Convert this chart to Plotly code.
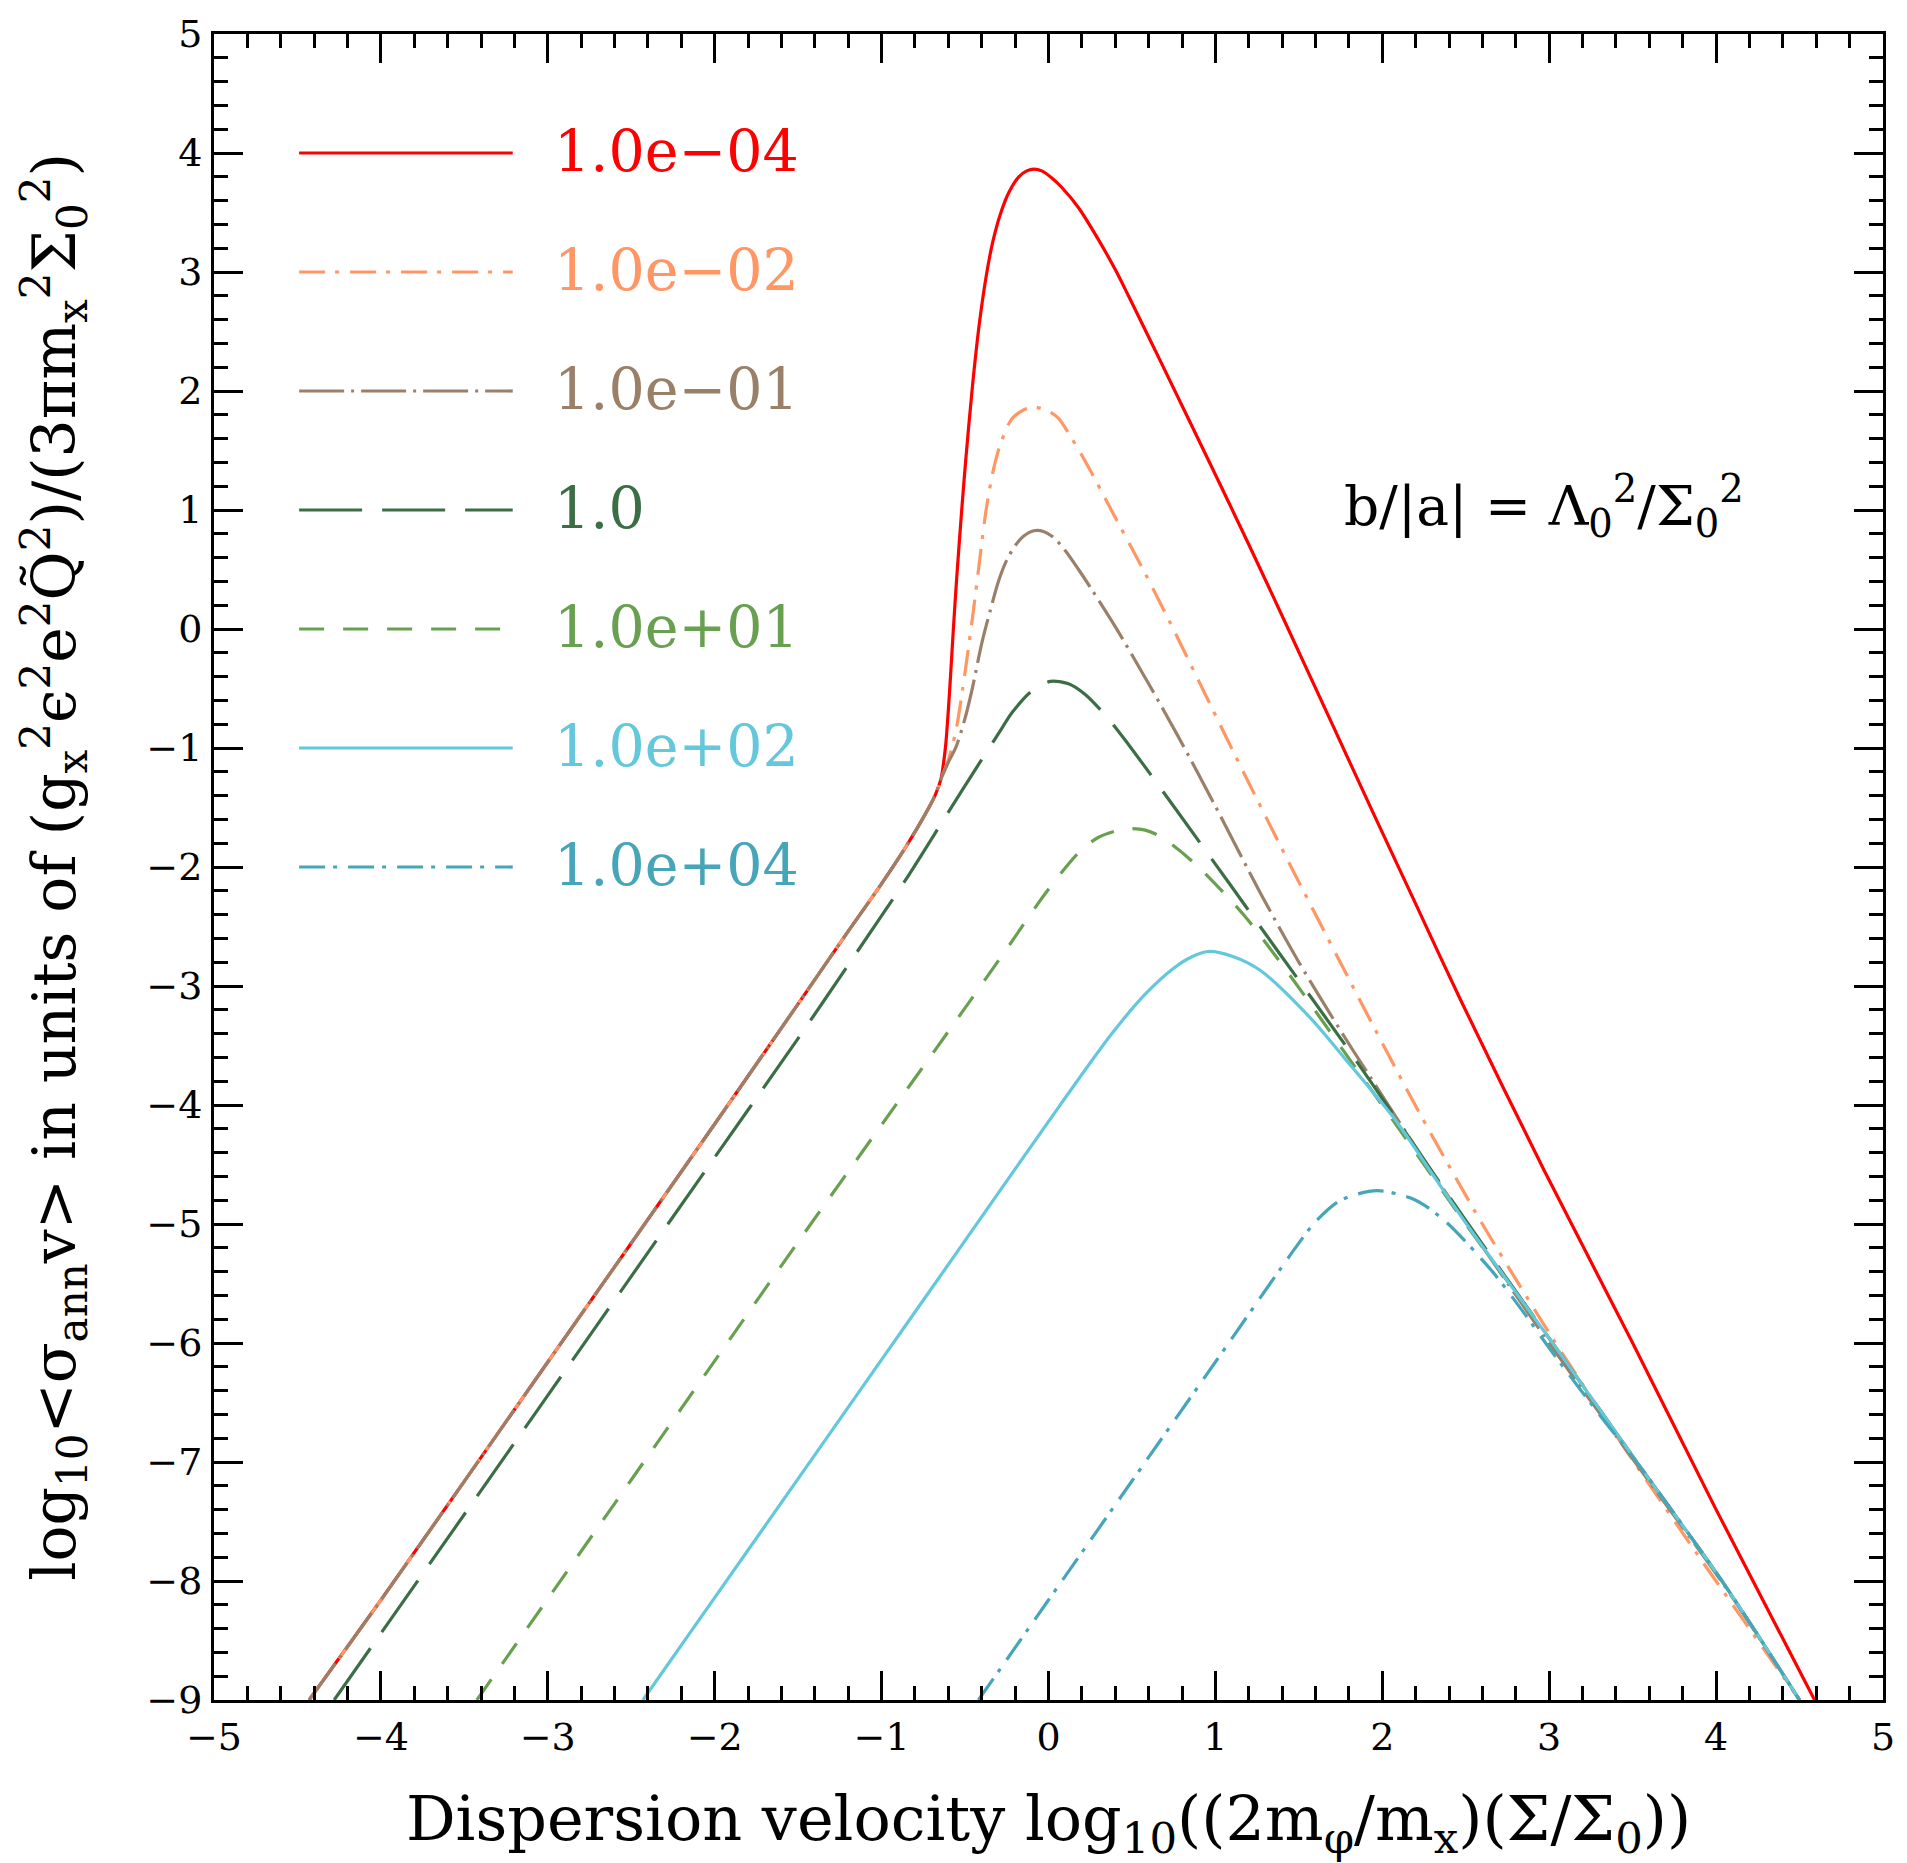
import plotly.graph_objects as go

# ---------------- data ----------------
labels = ["1.0e\u221204", "1.0e\u221202", "1.0e\u221201", "1.0", "1.0e+01", "1.0e+02", "1.0e+04"]

x_1em4 = [-4.43, -4.0, -3.0, -2.0, -1.5, -1.21, -1.0, -0.85, -0.74, -0.68, -0.644, -0.63, -0.615,
          -0.6, -0.585, -0.57, -0.55, -0.52, -0.494, -0.455, -0.415, -0.375, -0.336, -0.29,
          -0.237, -0.178, -0.13, -0.088, -0.04, 0.02, 0.08, 0.18, 0.3, 0.4, 0.479, 0.678,
          0.975, 1.2, 1.41, 1.7, 1.95, 2.2, 2.47, 2.97, 3.5, 4.0, 4.59]
y_1em4 = [-9.0, -8.16, -6.16, -4.16, -3.15, -2.56, -2.14, -1.82, -1.56, -1.4, -1.26, -1.14, -0.96,
          -0.68, -0.35, 0.0, 0.43, 1.0, 1.45, 2.05, 2.56, 2.95, 3.24, 3.48,
          3.67, 3.8, 3.85, 3.865, 3.85, 3.79, 3.71, 3.54, 3.27, 3.02, 2.8, 2.23,
          1.37, 0.71, 0.08, -0.8, -1.56, -2.31, -3.12, -4.55, -6.0, -7.4, -9.0]

x_1em2 = [-4.43, -4.0, -3.0, -2.0, -1.5, -1.21, -1.0, -0.85, -0.74, -0.68, -0.644, -0.6, -0.554,
          -0.515, -0.455, -0.415, -0.375, -0.336, -0.296, -0.25, -0.217, -0.15, -0.088, 0.0, 0.06,
          0.14, 0.22, 0.38, 0.578, 0.737, 0.95, 1.174, 1.472, 1.77, 2.0, 2.22, 2.57, 2.82, 3.02,
          3.46, 3.9, 4.5]
y_1em2 = [-9.0, -8.16, -6.16, -4.16, -3.15, -2.56, -2.14, -1.82, -1.56, -1.4, -1.26, -1.1, -0.85,
          -0.51, 0.1, 0.55, 0.99, 1.3, 1.52, 1.69, 1.77, 1.84, 1.865, 1.83, 1.77,
          1.6, 1.41, 0.99, 0.47, 0.03, -0.58, -1.22, -2.05, -2.86, -3.48, -4.06, -4.93, -5.51, -5.96,
          -6.9, -7.8, -9.0]

x_1em1 = [-4.43, -4.0, -3.0, -2.0, -1.5, -1.21, -1.0, -0.85, -0.74, -0.68, -0.644, -0.6, -0.554,
          -0.5, -0.455, -0.4, -0.35, -0.3, -0.25, -0.2, -0.15, -0.088, -0.03, 0.03, 0.1, 0.18,
          0.26, 0.4, 0.6, 0.776, 1.0, 1.27, 1.5, 1.77, 1.93, 2.1, 2.315, 2.6, 3.03, 3.54, 4.05, 4.5]
y_1em1 = [-9.0, -8.16, -6.16, -4.16, -3.15, -2.56, -2.14, -1.82, -1.56, -1.4, -1.26, -1.12, -0.99,
          -0.75, -0.49, -0.12, 0.15, 0.4, 0.58, 0.7, 0.78, 0.826, 0.82, 0.77, 0.66, 0.5,
          0.33, 0.02, -0.46, -0.9, -1.49, -2.22, -2.8, -3.42, -3.77, -4.14, -4.6, -5.19, -6.06,
          -7.05, -8.04, -9.0]

x_1e0 = [-4.28, -4.0, -3.0, -2.0, -1.5, -1.15, -0.852, -0.614, -0.415, -0.3, -0.217, -0.1, 0.012,
         0.12, 0.22, 0.35, 0.479, 0.776, 1.074, 1.37, 1.77, 2.1, 2.5, 3.03, 3.54, 4.05, 4.5]
y_1e0 = [-9.0, -8.44, -6.44, -4.44, -3.44, -2.72, -2.1, -1.57, -1.13, -0.88, -0.7, -0.52, -0.44,
         -0.46, -0.55, -0.74, -0.97, -1.54, -2.12, -2.7, -3.48, -4.15, -4.97, -6.02, -7.03, -8.03,
         -9.0]

x_1e1 = [-3.425, -3.0, -2.0, -1.5, -0.91, -0.614, -0.256, -0.018, 0.18, 0.3, 0.459, 0.58, 0.678,
         0.876, 1.174, 1.472, 1.77, 2.1, 2.5, 3.03, 3.54, 4.05, 4.5]
y_1e1 = [-9.0, -8.15, -6.15, -5.15, -3.99, -3.41, -2.7, -2.22, -1.88, -1.75, -1.68, -1.69, -1.75,
         -1.97, -2.41, -2.96, -3.55, -4.2, -5.0, -6.02, -7.03, -8.03, -9.0]

x_1e2 = [-2.43, -2.0, -1.0, -0.5, 0.08, 0.38, 0.578, 0.75, 0.85, 0.955, 1.1, 1.27, 1.57, 1.77,
         2.075, 2.3, 2.5, 3.03, 3.54, 4.05, 4.5]
y_1e2 = [-9.0, -8.14, -6.14, -5.14, -3.98, -3.4, -3.07, -2.85, -2.76, -2.71, -2.75, -2.87, -3.27,
         -3.6, -4.12, -4.58, -4.99, -6.02, -7.03, -8.03, -9.0]

x_1e4 = [-0.42, 0.0, 0.5, 1.0, 1.49, 1.6, 1.75, 1.97, 2.2, 2.38, 2.66, 2.84, 3.02, 3.3, 3.54, 4.05,
         4.5]
y_1e4 = [-9.0, -8.16, -7.16, -6.16, -5.18, -4.98, -4.8, -4.72, -4.8, -4.98, -5.4, -5.73, -6.08,
         -6.6, -7.03, -8.03, -9.0]

series_x = [x_1em4, x_1em2, x_1em1, x_1e0, x_1e1, x_1e2, x_1e4]
series_y = [y_1em4, y_1em2, y_1em1, y_1e0, y_1e1, y_1e2, y_1e4]

colors = ["#ff0000", "#ff9664", "#9b8069", "#3c6e46", "#69a050", "#64c8dc", "#46a5b9"]
dashes = ["solid", "26px,10px,4px,11px", "45px,7px,3px,7px", "63px,20px", "25px,19px",
          "solid", "26px,8px,4px,11px"]

legend_y = [4, 3, 2, 1, 0, -1, -2]
legend_x0, legend_x1, legend_tx = -4.49, -3.21, -2.975

FONT = "DejaVu Serif"
LW = 3.2

fig = go.Figure()
for xs, ys, c, d, lab in zip(series_x, series_y, colors, dashes, labels):
    fig.add_trace(go.Scatter(x=xs, y=ys, mode="lines", name=lab,
                             line=dict(color=c, width=LW, dash=d, shape="spline", smoothing=0.8),
                             showlegend=False))

# legend drawn inside the plot like the reference
for ly, c, d, lab in zip(legend_y, colors, dashes, labels):
    fig.add_shape(type="line", x0=legend_x0, x1=legend_x1, y0=ly, y1=ly, xref="x", yref="y",
                  line=dict(color=c, width=LW, dash=d))
    fig.add_annotation(x=legend_tx, y=ly, xref="x", yref="y", text=lab, showarrow=False,
                       xanchor="left", yanchor="middle", yshift=2,
                       font=dict(family=FONT, size=57, color=c))

fig.add_annotation(x=2.97, y=1.0, xref="x", yref="y",
                   text="b/|a| = Λ<sub>0</sub><sup>2</sup>/Σ<sub>0</sub><sup>2</sup>",
                   showarrow=False, xanchor="center", yanchor="middle", yshift=4,
                   font=dict(family=FONT, size=55, color="black"))

axis_common = dict(
    showgrid=False, zeroline=False, showline=True, linecolor="black", linewidth=3,
    mirror="allticks", ticks="inside", ticklen=29, tickwidth=2.5, tickcolor="black",
    dtick=1, tick0=0,
    minor=dict(ticks="inside", ticklen=14, tickwidth=2.5, tickcolor="black", dtick=0.2, showgrid=False),
    tickfont=dict(family=FONT, size=38, color="black"),
)

fig.update_xaxes(range=[-5, 5], ticklabelstandoff=1,
                 title=dict(text="Dispersion velocity log<sub>10</sub>((2m<sub>φ</sub>/m<sub>x</sub>)(Σ/Σ<sub>0</sub>))",
                            font=dict(family=FONT, size=62, color="black"), standoff=46),
                 **axis_common)
fig.update_yaxes(range=[-9, 5], ticklabelstandoff=1,
                 title=dict(text="log<sub>10</sub>&lt;σ<sub>ann</sub>v&gt; in units of (g<sub>x</sub><sup>2</sup>ϵ<sup>2</sup>e<sup>2</sup>Q\u0303<sup>2</sup>)/(3πm<sub>x</sub><sup>2</sup>Σ<sub>0</sub><sup>2</sup>)",
                            font=dict(family=FONT, size=60, color="black"), standoff=52),
                 **axis_common)

fig.update_layout(width=1907, height=1863, margin=dict(l=214, r=15, t=23, b=163),
                  paper_bgcolor="white", plot_bgcolor="white", showlegend=False)

fig.write_html("out.html")
